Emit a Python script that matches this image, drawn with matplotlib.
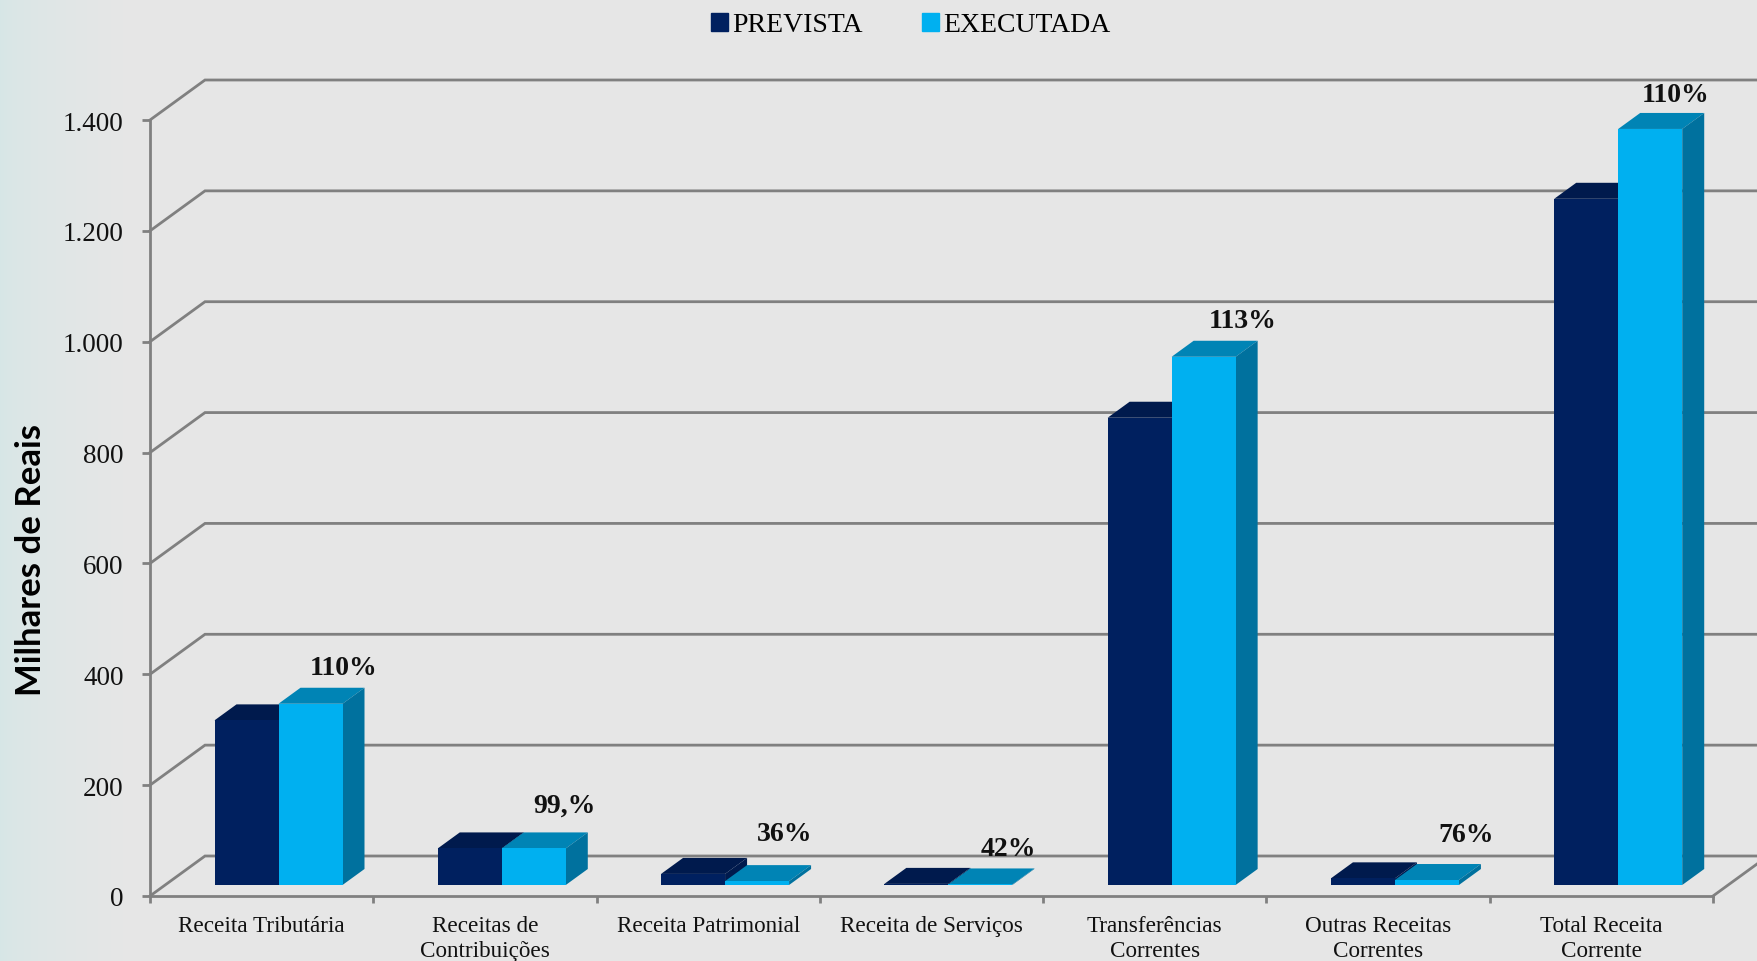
import matplotlib
matplotlib.use("Agg")
import matplotlib.pyplot as plt
import numpy as np
from matplotlib.patches import Patch, Polygon

categories = ["Receita Tributária", "Receitas de\nContribuições", "Receita Patrimonial",
              "Receita de Serviços", "Transferências\nCorrentes", "Outras Receitas\nCorrentes",
              "Total Receita\nCorrente"]
prevista = [297, 66, 20, 2, 843, 12, 1238]
executada = [327, 66, 7, 1, 953, 9, 1364]
percent_labels = ["110%", "99,%", "36%", "42%", "113%", "76%", "110%"]
y_ticks = [0, 200, 400, 600, 800, 1000, 1200, 1400]
y_tick_labels = ["0", "200", "400", "600", "800", "1.000", "1.200", "1.400"]

W, H = 1757, 962
serif = "Liberation Serif"
grid_color = "#808080"

fig = plt.figure(figsize=(W / 100, H / 100), dpi=100)

# page background, slightly teal on the far left
bg = fig.add_axes([0, 0, 1, 1], zorder=-1)
left_c = np.array([0.84, 0.905, 0.905])
right_c = np.array([0.902, 0.902, 0.902])
t = np.clip(np.linspace(0, 1, W) / 0.07, 0, 1)[None, :, None] ** 0.6
bg.imshow(left_c + (right_c - left_c) * t, aspect="auto")
bg.axis("off")

# axes = front plane of the 3D box
ax = fig.add_axes([150 / W, 1 - 897 / H, (1713 - 150) / W, (897 - 121) / H])
ax.set_xlim(0, 7)
ax.set_ylim(0, 1400)
ax.patch.set_alpha(0)

px_x = 7 / (1713 - 150)
px_y = 1400 / (897 - 121)
wall_dx, wall_dy = 55 * px_x, 40 * px_y
bar_dx, bar_dy = 22 * px_x, 16 * px_y
bar_w = 64 * px_x
bar_off = 64.5 * px_x
base = 11 * px_y

# back wall lines
for v in y_ticks:
    ax.plot([0, wall_dx, 7 + wall_dx], [v, v + wall_dy, v + wall_dy], color=grid_color,
            lw=2, clip_on=False, zorder=1, solid_joinstyle="miter")
ax.plot([7, 7 + wall_dx], [0, wall_dy], color=grid_color, lw=2, clip_on=False, zorder=1)


def draw_box(x, v, front, top, side, z):
    y0, y1 = base, base + v
    ax.bar(x, v, width=bar_w, bottom=base, align="edge", color=front, zorder=z + 0.2, clip_on=False)
    ax.add_patch(Polygon([(x, y1), (x + bar_dx, y1 + bar_dy), (x + bar_w + bar_dx, y1 + bar_dy),
                          (x + bar_w, y1)], color=top, lw=0, zorder=z, clip_on=False))
    ax.add_patch(Polygon([(x + bar_w, y0), (x + bar_w + bar_dx, y0 + bar_dy),
                          (x + bar_w + bar_dx, y1 + bar_dy), (x + bar_w, y1)],
                         color=side, lw=0, zorder=z + 0.1, clip_on=False))


for i in range(len(categories)):
    draw_box(i + bar_off, prevista[i], "#00205f", "#001a4d", "#001a4d", 2)
    draw_box(i + bar_off + bar_w, executada[i], "#00b0f0", "#0084b5", "#00719e", 3)

# percent labels, offsets in points from the top of the EXECUTADA bar
label_dx = [24, 22, 20, 20, 28, 28, 18]
label_dy = [26, 31, 34, 26, 26, 33, 25]
for i, lab in enumerate(percent_labels):
    ax.annotate(lab, (i + bar_off + bar_w * 1.5, base + executada[i]), xytext=(label_dx[i], label_dy[i]),
                textcoords="offset points", ha="center", va="center", fontsize=20,
                fontweight="bold", family=serif, color="#111111", zorder=6, annotation_clip=False)

for s in ["top", "right"]:
    ax.spines[s].set_visible(False)
for s in ["left", "bottom"]:
    ax.spines[s].set_color(grid_color)
    ax.spines[s].set_linewidth(2)

ax.set_yticks(y_ticks, y_tick_labels, fontsize=19.5, family=serif, color="#111111")
ax.tick_params(axis="y", length=6, width=2, color=grid_color, pad=13)
ax.set_xticks(range(8), [""] * 8)
ax.tick_params(axis="x", which="major", length=5, width=2, color=grid_color)
ax.set_xticks(np.arange(7) + 0.5, categories, minor=True, fontsize=16.7, family=serif, color="#111111")
ax.tick_params(axis="x", which="minor", length=0, pad=14)

fig.text(31 / W, 1 - 560 / H, "Milhares de Reais", rotation=90, ha="center", va="center",
         fontsize=25, fontweight="bold", family="Lato", color="black")

handles = [Patch(color="#00205f", label="PREVISTA"), Patch(color="#00b0f0", label="EXECUTADA")]
fig.legend(handles=handles, loc="center", bbox_to_anchor=(911 / W, 1 - 26 / H), ncol=2, frameon=False,
           prop={"family": serif, "size": 20}, handlelength=0.6, handleheight=0.6,
           handletextpad=0.15, columnspacing=2.15)

fig.savefig("out.png", dpi=100)
